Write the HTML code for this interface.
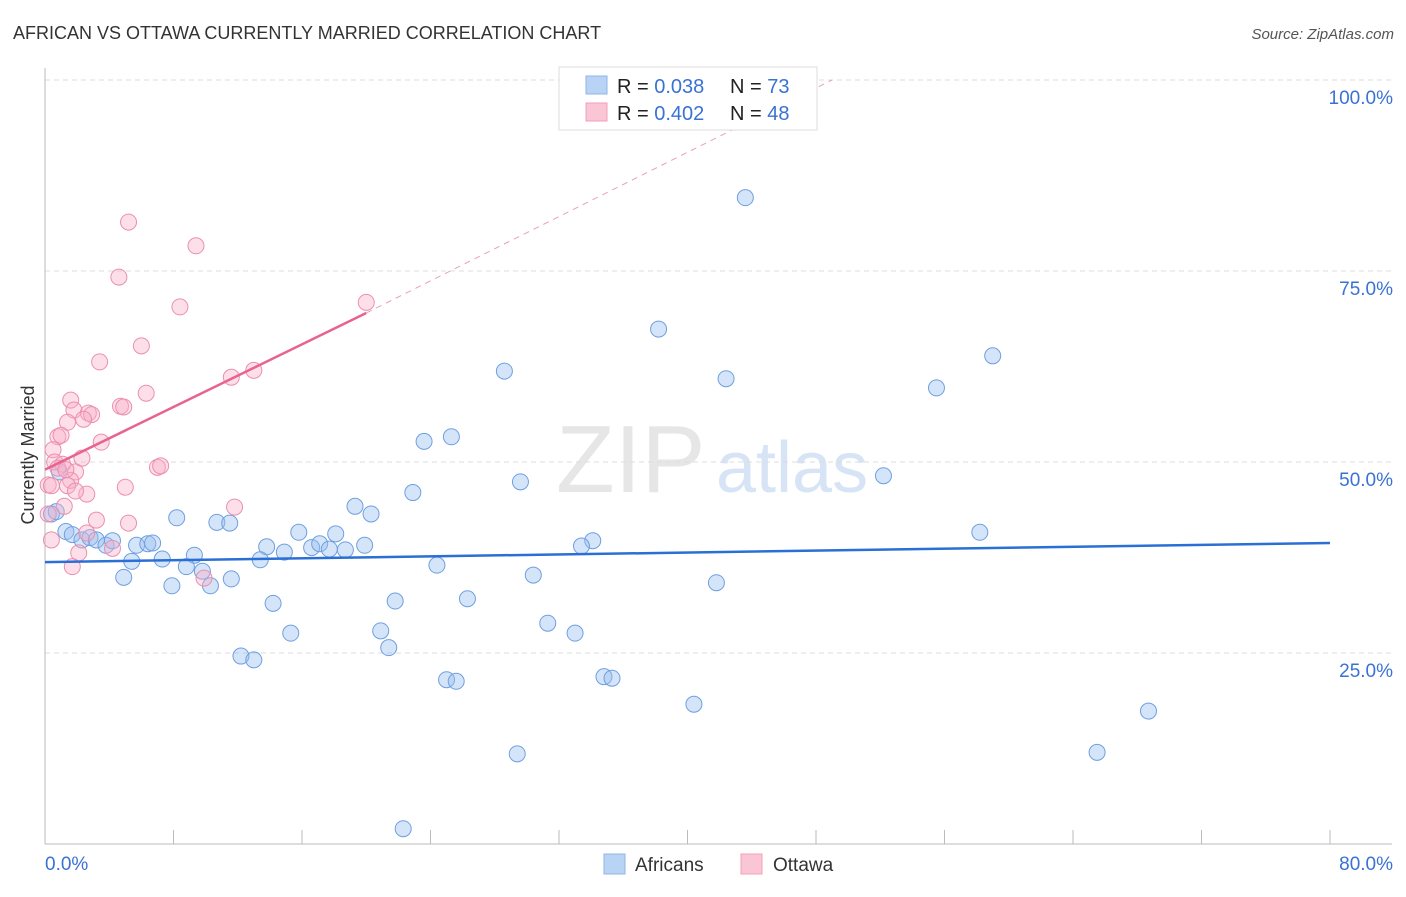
<!DOCTYPE html>
<html><head><meta charset="utf-8"><style>
body{margin:0;background:#fff;font-family:"Liberation Sans",sans-serif;}
svg text{font-family:"Liberation Sans",sans-serif;}
</style></head><body>
<svg id="c" width="1406" height="892" viewBox="0 0 1406 892">
<text x="13" y="39" font-size="18" fill="#333">AFRICAN VS OTTAWA CURRENTLY MARRIED CORRELATION CHART</text>
<text x="1394" y="39" font-size="15" fill="#555" font-style="italic" text-anchor="end">Source: ZipAtlas.com</text>
<text x="556" y="492" font-size="96" fill="#e6e6e6" font-family="Liberation Serif">ZIP</text>
<text x="716" y="492" font-size="72" fill="#d6e4f5">atlas</text>
<text transform="translate(34,455) rotate(-90)" font-size="18" fill="#333" text-anchor="middle">Currently Married</text>
<g id="grid"></g><g id="axes"></g><g id="marks"></g>
<g>
<rect x="559" y="67" width="258" height="63" fill="#fff" stroke="#ddd"/>
<rect x="586" y="76" width="21" height="18" fill="#b9d3f5" stroke="#8fb6ea"/>
<rect x="586" y="103" width="21" height="18" fill="#fac6d6" stroke="#f0a0b8"/>
<text x="617" y="93" font-size="20" fill="#222">R = <tspan fill="#3a72d4">0.038</tspan></text>
<text x="730" y="93" font-size="20" fill="#222">N = <tspan fill="#3a72d4">73</tspan></text>
<text x="617" y="120" font-size="20" fill="#222">R = <tspan fill="#3a72d4">0.402</tspan></text>
<text x="730" y="120" font-size="20" fill="#222">N = <tspan fill="#3a72d4">48</tspan></text>
</g>
<g>
<rect x="604" y="854" width="21" height="20" fill="#b9d3f5" stroke="#8fb6ea"/>
<text x="635" y="871" font-size="19" fill="#333">Africans</text>
<rect x="741" y="854" width="21" height="20" fill="#fac6d6" stroke="#f0a0b8"/>
<text x="773" y="871" font-size="19" fill="#333">Ottawa</text>
</g>
</svg>
<script>
const yTicks=[25,50,75,100];
const yTickLabels=["25.0%","50.0%","75.0%","100.0%"];
const xEndLabels=["0.0%","80.0%"];
const africanX=[43.6,38.2,28.6,42.4,59.0,55.5,23.6,25.3,29.6,22.9,52.2,19.3,20.3,8.2,10.7,11.5,15.8,18.1,1.3,1.7,2.3,2.8,3.2,3.8,4.2,5.7,6.4,6.7,13.8,16.6,17.1,17.7,18.7,19.9,34.1,33.4,58.2,9.3,7.3,5.4,13.4,14.9,8.8,9.8,4.9,7.9,10.3,11.6,24.4,30.4,41.8,14.2,21.8,26.3,15.3,20.9,31.3,33.0,12.2,13.0,21.4,25.0,25.6,34.8,35.3,40.4,68.7,29.4,65.5,22.3,0.4,0.7,0.9];
const africanY=[84.6,67.4,61.9,60.9,63.9,59.7,52.7,53.3,47.4,46.0,48.2,44.2,43.2,42.7,42.1,42.0,40.8,40.6,40.9,40.5,39.8,40.1,39.8,39.1,39.7,39.1,39.3,39.4,38.9,38.8,39.3,38.6,38.5,39.1,39.7,39.0,40.8,37.8,37.3,37.0,37.2,38.2,36.3,35.7,34.9,33.8,33.8,34.7,36.5,35.2,34.2,31.5,31.8,32.1,27.6,27.9,28.9,27.6,24.6,24.1,25.7,21.5,21.3,21.9,21.7,18.3,17.4,11.8,12.0,2.0,43.2,43.5,48.7];
const ottawaX=[5.2,9.4,4.6,8.4,20.0,6.0,3.4,13.0,11.6,6.3,1.6,1.8,2.7,2.9,2.4,4.7,4.9,1.4,0.8,1.0,3.5,0.5,0.6,1.1,7.0,7.2,1.9,1.6,0.2,2.6,1.4,5.0,1.9,1.2,11.8,0.2,3.2,5.2,2.6,0.4,2.1,4.2,1.7,9.9,0.8,0.4,1.3,2.3];
const ottawaY=[81.4,78.3,74.2,70.3,70.9,65.2,63.1,62.0,61.1,59.0,58.1,56.8,56.4,56.2,55.6,57.3,57.2,55.2,53.3,53.5,52.6,51.6,50.0,49.7,49.3,49.5,48.7,47.6,47.0,45.8,46.9,46.7,46.2,44.2,44.1,43.2,42.4,42.0,40.7,39.8,38.1,38.7,36.3,34.8,49.2,46.9,49.0,50.5];
const africanTrend=[[0,36.9],[80,39.4]];
const ottawaTrend=[[0,49.0],[20,69.5]];
const ottawaTrendExt=[[20,69.5],[49,100]];

const NS="http://www.w3.org/2000/svg";
const X=v=>45+v*(1330-45)/80;
const Y=v=>844-v*(844-80)/100;
function mk(tag,attrs,parent){const e=document.createElementNS(NS,tag);for(const k in attrs)e.setAttribute(k,attrs[k]);parent.appendChild(e);return e;}
const grid=document.getElementById('grid'),axes=document.getElementById('axes'),marks=document.getElementById('marks');
yTicks.forEach((t,i)=>{
  const l=mk('line',{x1:45,x2:1392,y1:Y(t),y2:Y(t),stroke:'#ddd','stroke-dasharray':'5,4'},grid);
  
  
  const tx=mk('text',{x:1393,y:Y(t)+24,'font-size':19,fill:'#3a72d4','text-anchor':'end'},axes);
  tx.textContent=yTickLabels[i];
  
  
});
const ax=mk('line',{x1:45,x2:45,y1:68,y2:844,stroke:'#bbb'},axes);


const bx=mk('line',{x1:45,x2:1392,y1:844,y2:844,stroke:'#bbb'},axes);


for(let i=0;i<=10;i++){
  const t=mk('line',{x1:X(i*8),x2:X(i*8),y1:830,y2:844,stroke:'#bbb'},axes);
  
  
}
[[0,'start',45],[80,'end',1393]].forEach((d,i)=>{
  const tx=mk('text',{x:d[2],y:870,'font-size':19,fill:'#3a72d4','text-anchor':d[1]},axes);
  tx.textContent=xEndLabels[i];
  
  
});
function dots(xs,ys,fill,stroke,name){
  xs.forEach((x,i)=>{
    const c=mk('circle',{cx:X(x),cy:Y(ys[i]),r:8,fill:fill,stroke:stroke,'stroke-width':1},marks);
    
    
  });
}
dots(africanX,africanY,'rgba(150,190,240,0.4)','#6f9fe0','african-point');
dots(ottawaX,ottawaY,'rgba(248,175,200,0.4)','#ec8fae','ottawa-point');
const e=mk('line',{x1:X(ottawaTrendExt[0][0]),y1:Y(ottawaTrendExt[0][1]),x2:X(ottawaTrendExt[1][0]),y2:Y(ottawaTrendExt[1][1]),stroke:'#e8a0b8','stroke-dasharray':'6,5','stroke-width':1},marks);


const p=mk('line',{x1:X(ottawaTrend[0][0]),y1:Y(ottawaTrend[0][1]),x2:X(ottawaTrend[1][0]),y2:Y(ottawaTrend[1][1]),stroke:'#e8638f','stroke-width':2.5},marks);


const b=mk('line',{x1:X(africanTrend[0][0]),y1:Y(africanTrend[0][1]),x2:X(africanTrend[1][0]),y2:Y(africanTrend[1][1]),stroke:'#2a6fd6','stroke-width':2.5},marks);


</script>
</body></html>
